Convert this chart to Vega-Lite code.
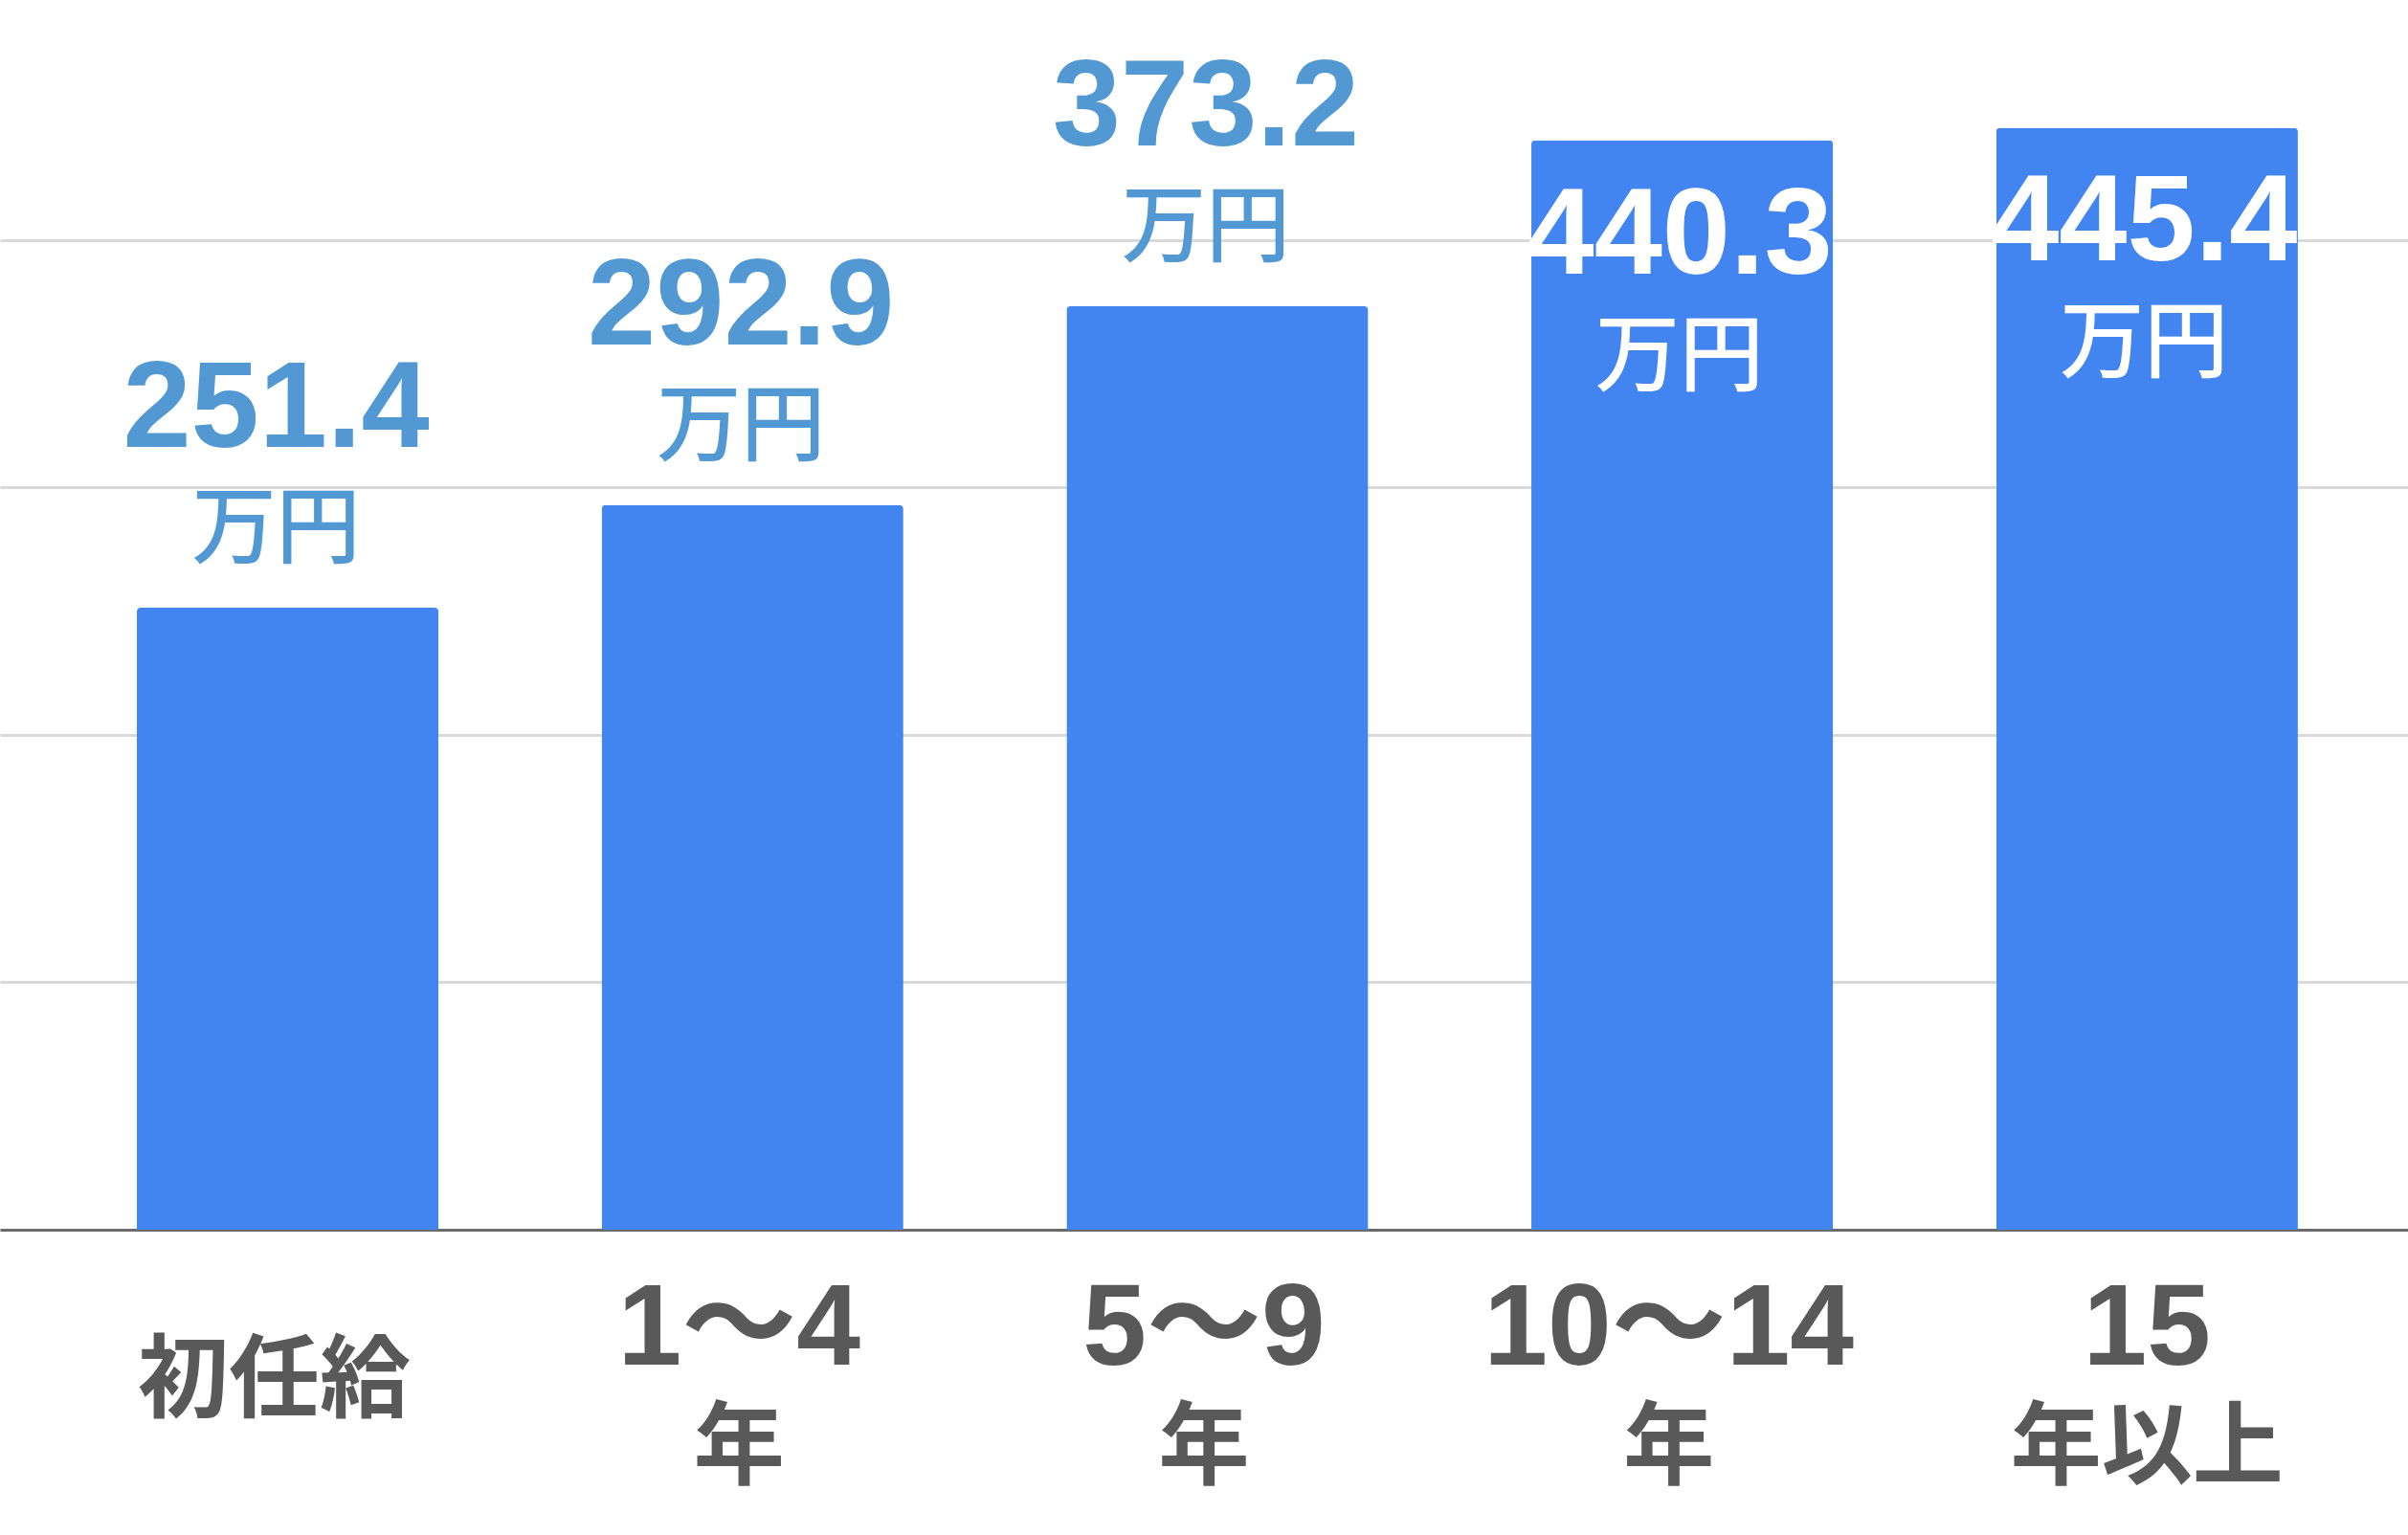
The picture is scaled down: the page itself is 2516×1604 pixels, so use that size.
{
  "$schema": "https://vega.github.io/schema/vega-lite/v6.json",
  "width": 2516,
  "height": 1285,
  "autosize": {"type": "none"},
  "padding": {"left": 0, "right": 0, "top": 0, "bottom": 319},
  "background": "white",
  "config": {"view": {"stroke": null}},
  "data": {
    "values": [
      {"period": "初任給", "unit": "", "value": 251.4},
      {"period": "1〜4", "unit": "年", "value": 292.9},
      {"period": "5〜9", "unit": "年", "value": 373.2},
      {"period": "10〜14", "unit": "年", "value": 440.3},
      {"period": "15", "unit": "年以上", "value": 445.4}
    ]
  },
  "encoding": {
    "x": {
      "field": "period",
      "type": "nominal",
      "sort": null,
      "title": null,
      "scale": {"paddingInner": 0.351, "paddingOuter": 0.2656, "align": 0.554},
      "axis": {
        "labelAngle": 0,
        "labelFont": "Liberation Sans, Noto Sans CJK JP",
        "labelFontSize": {"condition": {"test": "datum.value == '初任給'", "value": 95}, "value": 120},
        "labelFontWeight": "bold",
        "labelColor": "#595959",
        "labelLineHeight": 113,
        "labelBaseline": {"condition": {"test": "datum.value == '初任給'", "value": "line-top"}, "value": "middle"},
        "labelOffset": {"condition": {"test": "datum.value == '15'", "value": 0}, "value": -14},
        "labelPadding": 104,
        "labelLimit": 0,
        "ticks": false,
        "tickSize": 0,
        "domainColor": "#6b6b6b",
        "domainWidth": 3
      }
    },
    "y": {
      "field": "value",
      "type": "quantitative",
      "scale": {"domain": [0, 497], "nice": false},
      "axis": {
        "values": [100, 200, 300, 400],
        "labels": false,
        "ticks": false,
        "domain": false,
        "title": null,
        "gridColor": "#d9d9d9",
        "gridWidth": 3
      }
    }
  },
  "layer": [
    {
      "mark": {"type": "bar", "color": "#4285f0", "cornerRadiusTopLeft": 4, "cornerRadiusTopRight": 4}
    },
    {
      "transform": [{"filter": "datum.value < 400"}],
      "mark": {"type": "text", "baseline": "middle", "dy": -206, "dx": -12, "fontSize": 128, "fontWeight": "bold", "font": "Liberation Sans", "color": "#5299d3"},
      "encoding": {"text": {"field": "value", "type": "quantitative", "format": ".1f"}}
    },
    {
      "transform": [{"filter": "datum.value < 400"}],
      "mark": {"type": "text", "baseline": "middle", "dy": -80, "dx": -12, "fontSize": 88, "fontWeight": 500, "font": "Noto Sans CJK JP", "color": "#5299d3"},
      "encoding": {"text": {"value": "万円"}}
    },
    {
      "transform": [{"filter": "datum.value >= 400"}],
      "mark": {"type": "text", "baseline": "middle", "dy": 101, "dx": -3, "fontSize": 128, "fontWeight": "bold", "font": "Liberation Sans", "color": "white"},
      "encoding": {"text": {"field": "value", "type": "quantitative", "format": ".1f"}}
    },
    {
      "transform": [{"filter": "datum.value >= 400"}],
      "mark": {"type": "text", "baseline": "middle", "dy": 228, "dx": -3, "fontSize": 88, "fontWeight": 500, "font": "Noto Sans CJK JP", "color": "white"},
      "encoding": {"text": {"value": "万円"}}
    },
    {
      "transform": [{"filter": "datum.unit == '年'"}],
      "mark": {"type": "text", "baseline": "middle", "dy": 230, "dx": -14, "fontSize": 95, "fontWeight": "bold", "font": "Noto Sans CJK JP", "color": "#595959"},
      "encoding": {"y": {"datum": 0}, "text": {"field": "unit", "type": "nominal"}}
    },
    {
      "transform": [{"filter": "datum.unit == '年以上'"}],
      "mark": {"type": "text", "baseline": "middle", "dy": 230, "fontSize": 95, "fontWeight": "bold", "font": "Noto Sans CJK JP", "color": "#595959"},
      "encoding": {"y": {"datum": 0}, "text": {"field": "unit", "type": "nominal"}}
    }
  ]
}
